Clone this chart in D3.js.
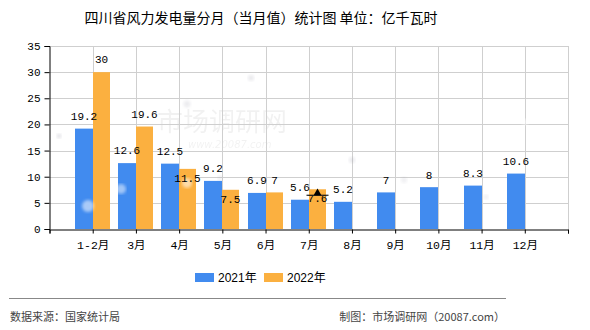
<!DOCTYPE html>
<html><head><meta charset="utf-8">
<script src="https://cdn.jsdelivr.net/npm/d3@7"></script>
<style>html,body{margin:0;padding:0;background:#fff;}svg{display:block;}</style>
</head><body>
<svg id="c" width="590" height="330"></svg>
<script>
const categories = ["1-2月","3月","4月","5月","6月","7月","8月","9月","10月","11月","12月"];
const values2021 = [19.2,12.6,12.5,9.2,6.9,5.6,5.2,7,8,8.3,10.6];
const values2022 = [30,19.6,11.5,7.5,7,7.6];
const yTicks = [0,5,10,15,20,25,30,35];
const seriesNames = ["2021年","2022年"];
const colors = ["#418bef","#fbb040"];
const markerIndex2022 = 5;

const svg = d3.select("#c");
const numFont = "'Liberation Mono','Noto Sans CJK SC',monospace";
const cjkFont = "'Noto Sans CJK SC',sans-serif";

const x = d3.scaleLinear().domain([0, categories.length + 1]).range([49.5, 568]);
const y = d3.scaleLinear().domain([0, 35]).range([229, 46]);
const bw1 = 18, bw2 = 17;

// watermark
const wm = svg.append("g").attr("opacity", 0.05);
wm.append("text").attr("x", 157).attr("y", 131).attr("font-family", cjkFont)
  .attr("font-size", 26).attr("fill", "#000").text("市场调研网");
wm.append("text").attr("x", 188).attr("y", 148).attr("font-family", "'DejaVu Sans'")
  .attr("font-style", "italic").attr("font-size", 10).attr("fill", "#000").text("www.20087.com");

// grid
const grid = svg.append("g");
grid.selectAll("line.h").data(yTicks.slice(1)).join("line")
  .attr("x1", x(0)).attr("x2", x(12)).attr("y1", d => Math.round(y(d)) + 0.5).attr("y2", d => Math.round(y(d)) + 0.5)
  .attr("stroke", "#cfcfcf").attr("stroke-width", 1);
grid.selectAll("line.v").data(d3.range(1, 13)).join("line")
  .attr("x1", d => Math.round(x(d)) + 0.5).attr("x2", d => Math.round(x(d)) + 0.5)
  .attr("y1", y(35)).attr("y2", y(0))
  .attr("stroke", "#cfcfcf").attr("stroke-width", 1);

// bars
svg.append("g").selectAll("rect").data(values2021).join("rect")
  .attr("x", (d, i) => Math.round(x(i + 1)) - bw1).attr("width", bw1)
  .attr("y", d => y(d)).attr("height", d => y(0) - y(d)).attr("fill", colors[0]);
svg.append("g").selectAll("rect").data(values2022).join("rect")
  .attr("x", (d, i) => Math.round(x(i + 1))).attr("width", bw2)
  .attr("y", d => y(d)).attr("height", d => y(0) - y(d)).attr("fill", colors[1]);

// glow dots (watermark decoration)
const defs = svg.append("defs");
defs.append("filter").attr("id", "blur").append("feGaussianBlur").attr("stdDeviation", 1.5);
const dots = [[88,206,6,"#fff",0.55],[121,189,5,"#fff",0.5],[187,183,5,"#fff",0.55],[59,136,2.5,"#99a",0.25],[251,78,3,"#99a",0.2],[187,104,3.5,"#99a",0.18],[220,178,2.5,"#99a",0.15],[352,160,3,"#99a",0.2],[404,180,3,"#99a",0.15],[486,197,2.5,"#99a",0.15],[525,122,3,"#fff",0.6]];
svg.append("g").selectAll("circle").data(dots).join("circle")
  .attr("cx", d => d[0]).attr("cy", d => d[1]).attr("r", d => d[2])
  .attr("fill", d => d[3]).attr("opacity", d => d[4]).attr("filter", "url(#blur)");

// axes
const xAxis = d3.axisBottom(x).tickValues(d3.range(0, 13)).tickSize(4)
  .tickFormat(d => (d >= 1 && d <= categories.length) ? categories[d - 1] : "");
const gx = svg.append("g").attr("transform", `translate(0,${y(0) + 0.5})`).call(xAxis);
gx.select(".domain").attr("stroke", "#000");
gx.selectAll(".tick line").attr("stroke", "#000");
gx.selectAll("text").attr("font-family", numFont).attr("font-size", 11.5).attr("fill", "#000").attr("dy", "1.05em");

const yAxis = d3.axisLeft(y).tickValues(yTicks).tickSize(5).tickPadding(4);
const gy = svg.append("g").attr("transform", `translate(${x(0)},0)`).call(yAxis);
gy.select(".domain").attr("stroke", "#000");
gy.selectAll(".tick line").attr("stroke", "#000");
gy.selectAll("text").attr("font-family", numFont).attr("font-size", 11).attr("fill", "#000");

// value labels with simple collision avoidance
const cw = 6.6;
const labels = [];
values2021.forEach((v, i) => labels.push({v, cx: Math.round(x(i + 1)) - bw1 / 2, top: y(v), s: 0, i}));
values2022.forEach((v, i) => labels.push({v, cx: Math.round(x(i + 1)) + bw2 / 2, top: y(v), s: 1, i}));
labels.forEach(l => { l.text = String(l.v); l.w = l.text.length * cw; l.cy = l.top - 12.5; });
labels.filter(l => l.s === 1).forEach(o => {
  const b = labels.find(l => l.s === 0 && l.i === o.i);
  if (b && Math.abs(b.cx - o.cx) < (b.w + o.w) / 2 && Math.abs(b.cy - o.cy) < 12) o.cy = o.top + 9;
});
svg.append("g").selectAll("text").data(labels).join("text")
  .attr("x", d => d.cx).attr("y", d => d.cy).attr("dy", "0.35em")
  .attr("text-anchor", "middle").attr("font-family", numFont).attr("font-size", 11)
  .attr("fill", "#000").text(d => d.text);

// marker on latest 2022 value
const mx = Math.round(x(markerIndex2022 + 1)) + bw2 / 2, my = y(values2022[markerIndex2022]);
svg.append("line").attr("x1", mx - 11).attr("x2", mx + 11).attr("y1", my + 6).attr("y2", my + 6)
  .attr("stroke", "#222").attr("stroke-width", 1.2);
svg.append("path").attr("d", d3.symbol(d3.symbolTriangle, 28)()).attr("transform", `translate(${mx},${my + 4})`).attr("fill", "#000");

// title
svg.append("text").attr("x", 261).attr("y", 23).attr("text-anchor", "middle")
  .attr("font-family", cjkFont).attr("font-size", 14).attr("fill", "#000")
  .text("四川省风力发电量分月（当月值）统计图 单位：亿千瓦时");

// legend
const lg = svg.append("g");
[[195, 0], [264, 1]].forEach(([lx, k]) => {
  lg.append("rect").attr("x", lx).attr("y", 273).attr("width", 19).attr("height", 9).attr("fill", colors[k]);
  lg.append("text").attr("x", lx + 23).attr("y", 282).attr("font-family", "'Liberation Sans','Noto Sans CJK SC',sans-serif")
    .attr("font-size", 12).attr("fill", "#000").text(seriesNames[k]);
});

// footer
svg.append("line").attr("x1", 9).attr("x2", 506).attr("y1", 298.5).attr("y2", 298.5).attr("stroke", "#888").attr("stroke-width", 1);
svg.append("text").attr("x", 10).attr("y", 321).attr("font-family", cjkFont).attr("font-size", 11).attr("fill", "#444").text("数据来源：国家统计局");
svg.append("text").attr("x", 505).attr("y", 321).attr("text-anchor", "end").attr("font-family", cjkFont).attr("font-size", 11).attr("fill", "#444").text("制图：市场调研网（20087.com）");
</script>
</body></html>
